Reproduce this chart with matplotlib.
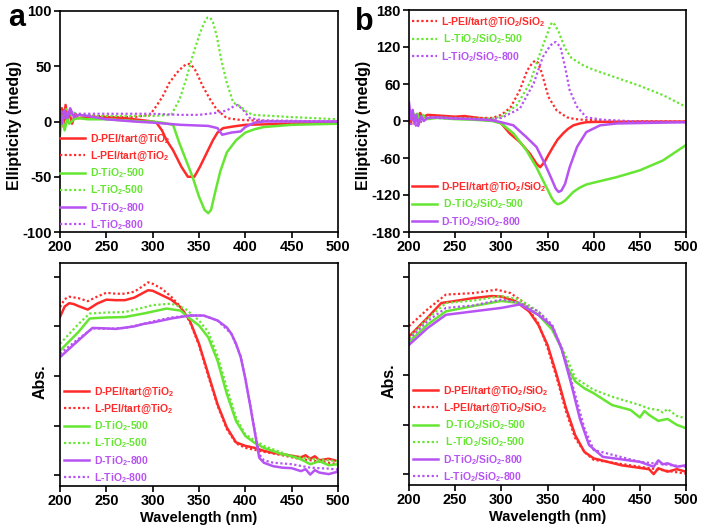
import matplotlib
matplotlib.use('Agg')
import matplotlib.pyplot as plt

plt.rcParams['font.family'] = ['Liberation Sans', 'DejaVu Sans']
plt.rcParams['font.weight'] = 'bold'
plt.rcParams['mathtext.fontset'] = 'custom'
plt.rcParams['mathtext.bf'] = 'Liberation Sans:bold'
plt.rcParams['mathtext.rm'] = 'Liberation Sans:bold'
plt.rcParams['mathtext.default'] = 'bf'

RED = '#ff2b2b'
GREEN = '#66e633'
PURPLE = '#b653f2'
DOT = (0, (1, 1.1))

# ---- panel a, CD spectra (mdeg) ----
a_cd_dpei_x = [200, 202, 204, 206, 208, 210, 213, 216, 220, 230, 250, 270, 290, 300, 304, 310, 315, 322, 331, 338,
               345, 351, 358, 365, 370, 376, 387, 400, 450, 500]
a_cd_dpei_y = [2, 12, -5, 15, 3, 8, -2, 6, 3, 4, 4, 3, 1, 0, -1, -8, -17, -26, -41, -50,
               -50, -41, -29, -17, -10, -6, -4.5, -3, -2, -1]
a_cd_lpei_x = [200, 203, 206, 210, 220, 240, 260, 280, 297, 304, 311, 318, 326, 333, 337, 340, 344, 347, 354, 362,
               369, 380, 394, 420, 450, 500]
a_cd_lpei_y = [5, 12, 2, 8, 6, 5, 4, 4, 6, 14, 23, 35, 44, 50, 52, 52, 49, 45, 32, 20,
               11, 3, 1.5, 0.5, 0, 0]
a_cd_d500_x = [200, 202, 205, 208, 210, 215, 220, 230, 250, 270, 290, 300, 310, 322, 329, 336, 343, 350, 356, 360,
               363, 368, 373, 380, 390, 400, 410, 420, 450, 500]
a_cd_d500_y = [-12, 5, -8, 3, -2, 2, 3, 2, 2, 1, 0, 0, -1, -3, -20, -35, -50, -68, -80, -83,
               -80, -62, -45, -28, -17, -10, -7, -5, -3, -2]
a_cd_l500_x = [200, 203, 206, 210, 215, 220, 240, 260, 280, 300, 320, 329, 336, 343, 351, 356, 359, 362, 365, 369,
               374, 380, 387, 394, 401, 408, 450, 500]
a_cd_l500_y = [10, 3, 12, 5, 8, 6, 5, 5, 5, 5, 6, 20, 38, 59, 80, 90, 94, 94, 90, 78,
               56, 35, 17, 14, 9, 6, 4, 2]
a_cd_d800_x = [200, 202, 205, 208, 211, 215, 220, 230, 250, 280, 300, 330, 360, 370, 375, 385, 395, 400, 410, 420, 500]
a_cd_d800_y = [8, -2, 10, 3, 12, 4, 6, 5, 2, 0, -1, -3, -4, -6, -12, -10, -9, -5, -1, 0, 0]
a_cd_l800_x = [200, 203, 206, 210, 220, 240, 260, 300, 330, 350, 370, 380, 388, 392, 398, 405, 420, 500]
a_cd_l800_y = [4, 10, 2, 7, 7, 7, 7, 7, 6, 6, 8, 10, 14, 15, 10, 3, 1, 0]

# ---- panel b, CD spectra (mdeg) ----
b_cd_dpei_x = [200, 202, 204, 206, 208, 210, 212, 215, 220, 230, 240, 250, 260, 270, 280, 290, 300, 309, 320, 331,
               338, 342, 347, 351, 356, 361, 367, 372, 378, 385, 392, 400, 450, 500]
b_cd_dpei_y = [8, -3, 12, 2, 10, 5, 13, 6, 10, 9, 8, 7, 8, 6, 4, 2, -4, -20, -34, -53,
               -69, -75, -66, -55, -42, -30, -20, -13, -7, -4, -2, -1.5, -1, -1]
b_cd_lpei_x = [200, 202, 205, 208, 212, 215, 220, 230, 250, 270, 290, 300, 310, 320, 328, 334, 337, 340, 344, 351,
               360, 371, 380, 389, 420, 500]
b_cd_lpei_y = [5, -8, 10, 0, -5, 8, 5, 8, 6, 5, 5, 10, 22, 50, 82, 95, 98, 94, 77, 39,
               17, 6, 3, 2, 0, -1]
b_cd_d500_x = [200, 203, 206, 209, 212, 215, 220, 230, 250, 270, 290, 300, 313, 327, 338, 347, 355, 358, 361, 365,
               369, 378, 385, 392, 400, 425, 450, 475, 500]
b_cd_d500_y = [5, 15, 2, 12, 0, 8, 3, 5, 3, 2, 0, -4, -20, -47, -75, -102, -126, -132, -135, -133,
               -129, -115, -108, -103, -100, -91, -80, -64, -39]
b_cd_l500_x = [200, 205, 210, 215, 220, 230, 250, 270, 290, 300, 317, 331, 342, 349, 353, 355, 358, 362, 369, 376,
               389, 400, 425, 450, 475, 500]
b_cd_l500_y = [8, 12, 3, 10, 5, 6, 5, 4, 4, 7, 26, 62, 110, 138, 155, 160, 156, 145, 118, 102,
               90, 83, 70, 57, 42, 23]
b_cd_d800_x = [200, 202, 204, 206, 208, 210, 213, 216, 220, 230, 250, 270, 290, 300, 313, 327, 338, 347, 355, 359,
               362, 365, 369, 374, 382, 392, 407, 425, 500]
b_cd_d800_y = [30, 5, 18, -5, 10, -8, 8, 0, 5, 6, 4, 3, 1, -2, -7, -26, -42, -69, -96, -110,
               -115, -113, -102, -75, -42, -18, -7, -4, -2]
b_cd_l800_x = [200, 202, 205, 208, 211, 215, 220, 230, 250, 270, 290, 300, 320, 335, 345, 352, 356, 359, 364, 369,
               374, 382, 392, 410, 450, 500]
b_cd_l800_y = [20, -5, 8, -10, 5, 3, 6, 5, 4, 3, 3, 5, 20, 61, 104, 120, 127, 128, 120, 88,
               50, 23, 6, 2, -1, -2]

# ---- panel a, absorbance (a.u.) ----
a_ab_dpei_x = [200, 205, 210, 215, 220, 230, 240, 250, 260, 270, 280, 290, 295, 300, 310, 320, 330, 340, 350, 360,
               370, 380, 390, 400, 410, 420, 430, 440, 450, 460, 465, 470, 475, 480, 490, 500]
a_ab_dpei_y = [3.19, 3.40, 3.47, 3.45, 3.41, 3.34, 3.46, 3.54, 3.53, 3.53, 3.58, 3.68, 3.73, 3.72, 3.63, 3.54, 3.39,
               3.12, 2.65, 2.04, 1.43, 0.96, 0.66, 0.59, 0.55, 0.49, 0.45, 0.42, 0.39, 0.36, 0.40, 0.33, 0.38, 0.30,
               0.33, 0.28]
a_ab_lpei_x = [200, 205, 210, 220, 230, 240, 250, 260, 270, 280, 290, 295, 300, 310, 320, 330, 340, 350, 360, 370,
               380, 390, 400, 420, 440, 450, 460, 470, 480, 490, 500]
a_ab_lpei_y = [3.39, 3.55, 3.60, 3.57, 3.51, 3.60, 3.68, 3.66, 3.66, 3.70, 3.82, 3.89, 3.86, 3.76, 3.60, 3.40, 3.10,
               2.62, 2.00, 1.40, 0.93, 0.64, 0.55, 0.47, 0.40, 0.36, 0.32, 0.30, 0.27, 0.25, 0.22]
a_ab_d500_x = [200, 210, 220, 232, 240, 250, 270, 290, 300, 315, 330, 340, 350, 360, 370, 380, 390, 400, 410, 420,
               440, 450, 460, 470, 480, 490, 500]
a_ab_d500_y = [2.51, 2.70, 2.89, 3.16, 3.17, 3.18, 3.19, 3.26, 3.30, 3.36, 3.32, 3.16, 3.02, 2.78, 2.31, 1.64, 1.09,
               0.79, 0.65, 0.55, 0.42, 0.38, 0.32, 0.22, 0.28, 0.20, 0.22]
a_ab_l500_x = [200, 210, 220, 232, 250, 270, 290, 300, 320, 335, 350, 360, 370, 380, 390, 400, 420, 450, 470, 500]
a_ab_l500_y = [2.65, 2.85, 3.05, 3.26, 3.28, 3.29, 3.38, 3.43, 3.46, 3.36, 3.12, 2.89, 2.41, 1.77, 1.16, 0.82, 0.59,
               0.38, 0.33, 0.28]
a_ab_d800_x = [200, 210, 220, 235, 250, 260, 280, 290, 300, 320, 340, 355, 370, 380, 385, 390, 395, 400, 405, 410,
               415, 420, 430, 440, 450, 460, 465, 470, 475, 480, 490, 500]
a_ab_d800_y = [2.38, 2.55, 2.72, 2.97, 2.96, 2.95, 3.00, 3.05, 3.08, 3.16, 3.22, 3.22, 3.12, 2.98, 2.85, 2.65, 2.38,
               1.95, 1.43, 0.89, 0.35, 0.25, 0.18, 0.15, 0.14, 0.08, 0.12, 0.01, 0.10, 0.05, 0.02, 0.07]
a_ab_l800_x = [200, 210, 220, 235, 250, 270, 290, 300, 320, 340, 355, 370, 385, 395, 405, 410, 415, 420, 430, 450,
               470, 490, 500]
a_ab_l800_y = [2.45, 2.60, 2.75, 2.96, 2.95, 2.97, 3.05, 3.10, 3.18, 3.22, 3.22, 3.12, 2.85, 2.40, 1.45, 0.92, 0.42,
               0.30, 0.25, 0.22, 0.15, 0.13, 0.11]

# ---- panel b, absorbance (a.u.) ----
b_ab_dpei_x = [200, 210, 220, 235, 250, 270, 290, 300, 315, 330, 340, 350, 360, 370, 380, 390, 400, 430, 460, 465,
               470, 480, 490, 500]
b_ab_dpei_y = [2.79, 2.98, 3.17, 3.47, 3.51, 3.57, 3.61, 3.60, 3.51, 3.30, 3.03, 2.62, 2.01, 1.34, 0.79, 0.45, 0.32,
               0.18, 0.10, 0.00, 0.12, 0.05, 0.10, 0.05]
b_ab_lpei_x = [200, 210, 220, 240, 270, 295, 310, 325, 340, 350, 360, 370, 380, 390, 400, 450, 500]
b_ab_lpei_y = [3.00, 3.17, 3.34, 3.64, 3.67, 3.74, 3.67, 3.47, 3.06, 2.56, 1.95, 1.27, 0.73, 0.45, 0.29, 0.15, 0.01]
b_ab_d500_x = [200, 220, 240, 270, 300, 320, 340, 355, 365, 372, 380, 390, 400, 420, 440, 450, 455, 460, 470, 480,
               490, 500]
b_ab_d500_y = [2.68, 3.03, 3.30, 3.41, 3.51, 3.47, 3.23, 2.93, 2.56, 2.15, 1.88, 1.74, 1.64, 1.40, 1.30, 1.15, 1.28,
               1.20, 1.08, 1.12, 1.00, 0.93]
b_ab_l500_x = [200, 220, 240, 270, 300, 320, 340, 355, 370, 380, 400, 420, 450, 460, 470, 475, 480, 490, 500]
b_ab_l500_y = [2.76, 3.15, 3.47, 3.52, 3.61, 3.54, 3.30, 2.99, 2.39, 1.95, 1.71, 1.57, 1.40, 1.33, 1.30, 1.25, 1.32,
               1.18, 1.13]
b_ab_d800_x = [200, 220, 240, 270, 300, 320, 340, 355, 365, 375, 385, 395, 410, 450, 465, 470, 475, 480, 490, 500]
b_ab_d800_y = [2.62, 2.96, 3.23, 3.30, 3.37, 3.44, 3.23, 3.00, 2.56, 1.88, 1.13, 0.59, 0.35, 0.25, 0.15, 0.28, 0.20,
               0.22, 0.15, 0.18]
b_ab_l800_x = [200, 220, 240, 270, 300, 320, 340, 355, 370, 380, 390, 400, 450, 500]
b_ab_l800_y = [2.73, 3.10, 3.37, 3.42, 3.54, 3.47, 3.30, 3.03, 2.29, 1.61, 0.93, 0.49, 0.25, 0.15]

a_labels = ['D-PEI/tart@TiO$_2$', 'L-PEI/tart@TiO$_2$', 'D-TiO$_2$-500', 'L-TiO$_2$-500',
            'D-TiO$_2$-800', 'L-TiO$_2$-800']
b_labels = ['D-PEI/tart@TiO$_2$/SiO$_2$', 'L-PEI/tart@TiO$_2$/SiO$_2$', ' D-TiO$_2$/SiO$_2$-500',
            ' L-TiO$_2$/SiO$_2$-500', 'D-TiO$_2$/SiO$_2$-800', 'L-TiO$_2$/SiO$_2$-800']
wl_ticks = [200, 250, 300, 350, 400, 450, 500]

colors = [RED, RED, GREEN, GREEN, PURPLE, PURPLE]
styles = ['-', DOT, '-', DOT, '-', DOT]

W, H = 702, 528
fig = plt.figure(figsize=(W / 100, H / 100), dpi=100)


def box(l, t, r, b):
    return [l / W, 1 - b / H, (r - l) / W, (b - t) / H]


ax_a1 = fig.add_axes(box(60, 11, 338, 232))
ax_a2 = fig.add_axes(box(60, 263, 338, 486))
ax_b1 = fig.add_axes(box(409, 10, 686, 232))
ax_b2 = fig.add_axes(box(409, 263, 686, 485))


def draw(ax, xs, ys, labels):
    lines = []
    for x, y, c, s, lab in zip(xs, ys, colors, styles, labels):
        lw = 1.8 if s == '-' else 1.6
        ln, = ax.plot(x, y, color=c, linestyle=s, lw=lw, label=lab)
        lines.append(ln)
    ax.set_xlim(200, 500)
    ax.set_xticks(wl_ticks, labels=[str(t) for t in wl_ticks], fontweight='bold')
    for sp in ax.spines.values():
        sp.set_linewidth(1.2)
    ax.tick_params(direction='out', length=4, width=1.2, labelsize=10.5, pad=2)
    return lines


def set_yticks(ax, ticks, show=True):
    labels = [str(t) for t in ticks] if show else [''] * len(ticks)
    ax.set_yticks(ticks, labels=labels, fontweight='bold')


def legend(ax, handles, anchor):
    return ax.legend(handles=handles, loc='upper left', bbox_to_anchor=anchor, frameon=False,
                     prop={'size': 7.5, 'weight': 'bold'}, labelcolor='linecolor',
                     handlelength=2.4, handletextpad=0.45, labelspacing=0.33,
                     borderpad=0, borderaxespad=0)


# panel a, CD
la1 = draw(ax_a1,
           [a_cd_dpei_x, a_cd_lpei_x, a_cd_d500_x, a_cd_l500_x, a_cd_d800_x, a_cd_l800_x],
           [a_cd_dpei_y, a_cd_lpei_y, a_cd_d500_y, a_cd_l500_y, a_cd_d800_y, a_cd_l800_y], a_labels)
ax_a1.set_ylim(-100, 100)
set_yticks(ax_a1, [-100, -50, 0, 50, 100])
ax_a1.set_ylabel('Ellipticity (medg)', fontsize=11.5, fontweight='bold')
ax_a1.yaxis.set_label_coords(-0.137, 0.48)
legend(ax_a1, la1, (0.0, (232 - 133) / 221))

# panel b, CD
lb1 = draw(ax_b1,
           [b_cd_dpei_x, b_cd_lpei_x, b_cd_d500_x, b_cd_l500_x, b_cd_d800_x, b_cd_l800_x],
           [b_cd_dpei_y, b_cd_lpei_y, b_cd_d500_y, b_cd_l500_y, b_cd_d800_y, b_cd_l800_y], b_labels)
ax_b1.set_ylim(-180, 180)
set_yticks(ax_b1, [-180, -120, -60, 0, 60, 120, 180])
ax_b1.set_ylabel('Ellipticity (medg)', fontsize=11.5, fontweight='bold')
ax_b1.yaxis.set_label_coords(-0.137, 0.48)
leg_top = legend(ax_b1, [lb1[1], lb1[3], lb1[5]], (0.01, (232 - 16) / 222))
ax_b1.add_artist(leg_top)
legend(ax_b1, [lb1[0], lb1[2], lb1[4]], (0.01, (232 - 181) / 222))

# panel a, absorbance
la2 = draw(ax_a2,
           [a_ab_dpei_x, a_ab_lpei_x, a_ab_d500_x, a_ab_l500_x, a_ab_d800_x, a_ab_l800_x],
           [a_ab_dpei_y, a_ab_lpei_y, a_ab_d500_y, a_ab_l500_y, a_ab_d800_y, a_ab_l800_y], a_labels)
ax_a2.set_ylim(-0.22, 4.28)
set_yticks(ax_a2, [0, 1, 2, 3, 4], show=False)
ax_a2.set_ylabel('Abs.', fontsize=11.5, fontweight='bold')
ax_a2.yaxis.set_label_coords(-0.045, 0.47)
ax_a2.set_xlabel('Wavelength (nm)', fontsize=10.5, fontweight='bold', labelpad=2)
legend(ax_a2, la2, (0.015, (486 - 386) / 223))

# panel b, absorbance
lb2 = draw(ax_b2,
           [b_ab_dpei_x, b_ab_lpei_x, b_ab_d500_x, b_ab_l500_x, b_ab_d800_x, b_ab_l800_x],
           [b_ab_dpei_y, b_ab_lpei_y, b_ab_d500_y, b_ab_l500_y, b_ab_d800_y, b_ab_l800_y], b_labels)
ax_b2.set_ylim(-0.22, 4.28)
set_yticks(ax_b2, [0, 1, 2, 3, 4], show=False)
ax_b2.set_ylabel('Abs.', fontsize=11.5, fontweight='bold')
ax_b2.yaxis.set_label_coords(-0.045, 0.47)
ax_b2.set_xlabel('Wavelength (nm)', fontsize=10.5, fontweight='bold', labelpad=2)
legend(ax_b2, lb2, (0.015, (485 - 385) / 222))

fig.text(8 / W, 1 - 26 / H, 'a', fontsize=22, fontweight='bold')
fig.text(355 / W, 1 - 30 / H, 'b', fontsize=22, fontweight='bold')

fig.savefig('out.png', dpi=100)
